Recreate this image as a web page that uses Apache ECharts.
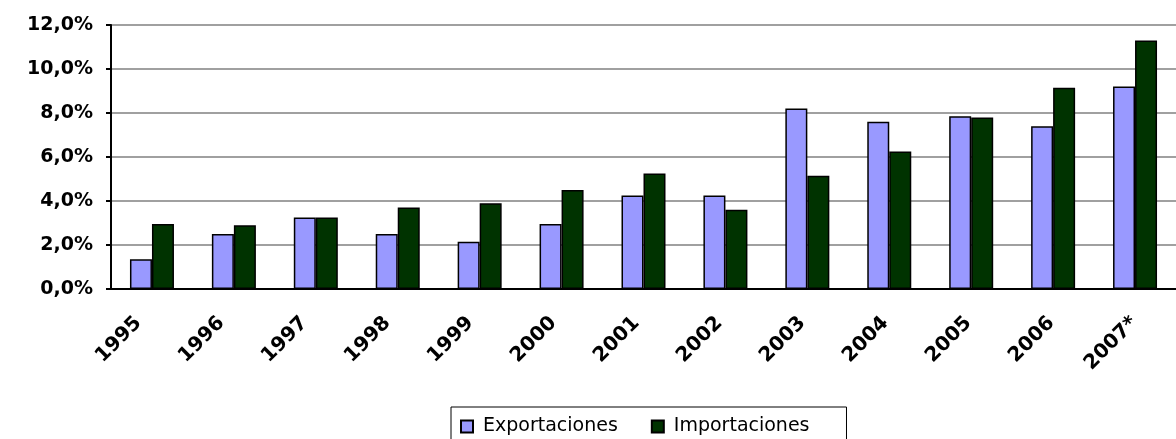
<!DOCTYPE html>
<html>
<head>
<meta charset="utf-8">
<script src="https://cdn.jsdelivr.net/npm/echarts@6/dist/echarts.min.js"></script>
<style>
  html, body { margin: 0; padding: 0; background: #fff; }
  #chart { width: 1176px; height: 439px; }
</style>
</head>
<body>
<div id="chart"></div>
<script>
var years = ['1995', '1996', '1997', '1998', '1999', '2000', '2001', '2002', '2003', '2004', '2005', '2006', '2007*'];
var exportaciones = [1.35, 2.5, 3.25, 2.5, 2.15, 2.95, 4.25, 4.25, 8.2, 7.6, 7.85, 7.4, 9.2];
var importaciones = [2.95, 2.9, 3.25, 3.7, 3.9, 4.5, 5.25, 3.6, 5.15, 6.25, 7.8, 9.15, 11.3];

var chart = echarts.init(document.getElementById('chart'));

var option = {
    animation: false,
    textStyle: {
        fontFamily: 'DejaVu Sans'
    },
    grid: [
        { left: 111, top: 25, width: 1079, bottom: 150 },
        // same plot shifted left a bit, only used to place the year labels
        { left: 97, top: 25, width: 1079, bottom: 150 }
    ],
    legend: {
        left: 451,
        top: 407,
        padding: [10, 37, 10, 9],
        itemGap: 33,
        itemWidth: 12,
        itemHeight: 12,
        borderColor: '#000',
        borderWidth: 1,
        icon: 'rect',
        formatter: function (name) {
            return '{t|' + name + '}';
        },
        textStyle: {
            fontSize: 19,
            color: '#000',
            rich: {
                t: { fontSize: 19, color: '#000', padding: [0, 0, 0, 5] }
            }
        },
        data: ['Exportaciones', 'Importaciones']
    },
    xAxis: [
        {
            type: 'category',
            data: years,
            axisLine: { lineStyle: { color: '#000', width: 2 } },
            axisTick: { length: 5, lineStyle: { color: '#000', width: 2 } },
            axisLabel: { show: false }
        },
        {
            gridIndex: 1,
            type: 'category',
            data: years,
            axisLine: { show: false },
            axisTick: { show: false },
            axisLabel: {
                rotate: 45,
                margin: 31,
                fontSize: 20,
                fontWeight: 'bold',
                color: '#000'
            }
        }
    ],
    yAxis: [
        {
            type: 'value',
            min: 0,
            max: 12,
            interval: 2,
            axisLine: { show: true, lineStyle: { color: '#000', width: 2 } },
            axisTick: { show: true, length: 5, lineStyle: { color: '#000', width: 2 } },
            splitLine: { lineStyle: { color: '#a0a0a0', width: 2 } },
            axisLabel: {
                margin: 18,
                fontSize: 19,
                fontWeight: 'bold',
                color: '#000',
                formatter: function (v) {
                    return v.toFixed(1).replace('.', ',') + '%';
                }
            }
        },
        {
            gridIndex: 1,
            type: 'value',
            min: 0,
            max: 12,
            show: false
        }
    ],
    series: [
        {
            name: 'Exportaciones',
            type: 'bar',
            data: exportaciones,
            barWidth: 22,
            barGap: '0%',
            itemStyle: { color: '#9999ff', borderColor: '#000', borderWidth: 1.5 }
        },
        {
            name: 'Importaciones',
            type: 'bar',
            data: importaciones,
            barWidth: 22,
            itemStyle: { color: '#003300', borderColor: '#000', borderWidth: 1.5 }
        }
    ]
};

chart.setOption(option);
</script>
</body>
</html>
